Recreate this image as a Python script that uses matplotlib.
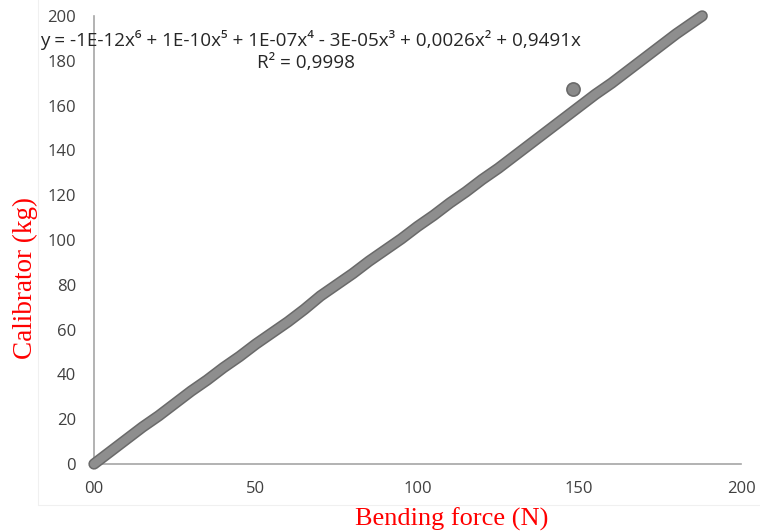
import matplotlib
matplotlib.use("Agg")
import matplotlib.pyplot as plt
from matplotlib.patches import Rectangle

# ── data ──────────────────────────────────────────────────────────────
force = [0, 5, 10, 15, 20, 25, 30, 35, 40, 45, 50, 55, 60, 65, 70, 75, 80,
         85, 90, 95, 100, 105, 110, 115, 120, 125, 130, 135, 140, 145, 150,
         155, 160, 165, 170, 175, 180, 185, 188]
calib = [0, 5.5, 11, 16.5, 21.5, 27, 32.5, 37.5, 43, 48, 53.5, 58.5, 63.5,
         69, 75, 80, 85, 90.5, 95.5, 100.5, 106, 111, 116.5, 121.5, 127, 132,
         137.5, 143, 148.5, 154, 159.5, 165, 170, 175.5, 181, 186.5, 192,
         197, 200]
outlier_x = [148.2]
outlier_y = [167.5]

xticks = [0, 50, 100, 150, 200]
xticklabels = ["00", "50", "100", "150", "200"]
yticks = list(range(0, 201, 20))

eq_text = "y = -1E-12x⁶ + 1E-10x⁵ + 1E-07x⁴ - 3E-05x³ + 0,0026x² + 0,9491x"
r2_text = "R² = 0,9998"

plt.rcParams["font.family"] = ["Open Sans", "DejaVu Sans"]

fig = plt.figure(figsize=(7.6, 5.31), dpi=100)
ax = fig.add_axes([0.1237, 0.1262, 0.8513, 0.8438])

# faint chart-area border
fig.patches.append(Rectangle((0.05, 0.049), 0.96, 1.0, transform=fig.transFigure,
                             fill=False, edgecolor="#f0f0f0", linewidth=0.8))

# dense markers drawn as a thick band
ax.plot(force, calib, color="#6a6a6a", linewidth=8.2, solid_capstyle="round",
        solid_joinstyle="round", clip_on=False, zorder=3)
ax.plot(force, calib, color="#8e8e8e", linewidth=6.0, solid_capstyle="round",
        solid_joinstyle="round", clip_on=False, zorder=4)
ax.scatter(outlier_x, outlier_y, s=90, color="#8a8a8a", edgecolors="#6a6a6a",
           linewidths=1.2, zorder=5, clip_on=False)

ax.set_xlim(0, 200)
ax.set_ylim(0, 200)
ax.set_xticks(xticks)
ax.set_xticklabels(xticklabels)
ax.set_yticks(yticks)
ax.tick_params(axis="both", length=0, labelsize=12, labelcolor="#404040")
ax.tick_params(axis="y", pad=13)
ax.tick_params(axis="x", pad=12)

for side in ["top", "right"]:
    ax.spines[side].set_visible(False)
for side in ["left", "bottom"]:
    ax.spines[side].set_color("#a6a6a6")
    ax.spines[side].set_linewidth(1.2)

ax.set_xlabel("Bending force (N)", family="Liberation Serif", color="red",
              fontsize=19)
ax.set_ylabel("Calibrator (kg)", family="Liberation Serif", color="red",
              fontsize=19.5)
ax.xaxis.set_label_coords(0.5525, -0.097)
ax.yaxis.set_label_coords(-0.087, 0.416)

fig.text(310 / 760, 1 - 40 / 531, eq_text, ha="center", va="center",
         fontsize=13.6, color="#262626")
fig.text(306 / 760, 1 - 63 / 531, r2_text, ha="center", va="center",
         fontsize=13.6, color="#262626")

fig.savefig("out.png", dpi=100)
